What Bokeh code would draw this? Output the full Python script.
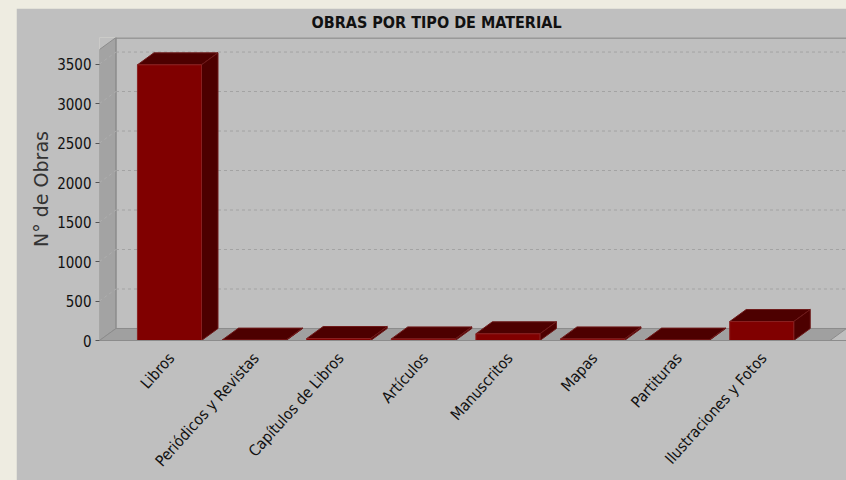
from bokeh.plotting import figure
from bokeh.embed import file_html
from bokeh.resources import INLINE
from bokeh.models import FixedTicker, Title
import math

categories = ["Libros", "Periódicos y Revistas", "Capítulos de Libros", "Artículos",
              "Manuscritos", "Mapas", "Partituras", "Ilustraciones y Fotos"]
values = [3490, 5, 25, 20, 85, 20, 5, 240]
y_ticks = [0, 500, 1000, 1500, 2000, 2500, 3000, 3500]
title_text = "OBRAS POR TIPO DE MATERIAL"
y_title = "N° de Obras"

# 3-D look, in data units
DX, DY = 0.195, 152
BAR = 0.757
X0, X1 = -0.827, 8.002
Y1 = 3836
LABEL_SHIFT = 0.025
FONT = "DejaVu Sans Condensed"

p = figure(width=830, height=472, output_backend="svg", toolbar_location=None,
           x_range=(X0, X1), y_range=(0, Y1), margin=(8, 0, 0, 16),
           min_border_left=83, min_border_right=0, min_border_top=29, min_border_bottom=140)
p.background_fill_color = "#bfbfbf"
p.border_fill_color = "#bfbfbf"
p.outline_line_color = None
p.grid.visible = False

# walls and floor
wall_top = Y1
p.patch([X0, X0 + DX, X0 + DX, X0], [0, DY, wall_top, wall_top - DY],
        fill_color="#a3a3a3", line_color="#8c8c8c", line_width=1)
p.patch([X0, X0 + DX, X1, X1 - DX], [0, DY, DY, 0],
        fill_color="#a0a0a0", line_color="#8c8c8c", line_width=1)
p.line([X0 + DX, X1], [wall_top - 3, wall_top - 3], line_color="#8c8c8c", line_width=2)
p.line([X0 + DX, X0 + DX], [DY, wall_top], line_color="#8c8c8c", line_width=1)

# grid on back and side walls
for t in y_ticks[1:]:
    p.line([X0 + DX, X1], [t + DY, t + DY], line_color="#a3a3a3", line_width=1, line_dash="3 3")
    p.line([X0, X0 + DX], [t, t + DY], line_color="#aeaeae", line_width=1, line_dash="3 3")

# bars
for i, v in enumerate(values):
    l, r = i - BAR / 2, i + BAR / 2
    p.patch([l, l + DX, r + DX, r], [v, v + DY, v + DY, v],
            fill_color="#4d0000", line_color="#6e1a1a", line_width=1)
    p.patch([r, r + DX, r + DX, r], [0, DY, v + DY, v],
            fill_color="#4d0000", line_color="#6e1a1a", line_width=1)
p.vbar(x=list(range(len(values))), top=values, width=BAR, bottom=0,
       fill_color="#800000", line_color="#8a2020", line_width=1)

# axes
p.yaxis.ticker = FixedTicker(ticks=y_ticks)
p.yaxis.axis_line_color = None
p.yaxis.major_tick_line_color = "#555555"
p.yaxis.major_tick_out = 4
p.yaxis.major_tick_in = 0
p.yaxis.minor_tick_line_color = None
p.yaxis.major_label_text_font = FONT
p.yaxis.major_label_text_font_size = "15px"
p.yaxis.major_label_text_color = "#111111"
p.yaxis.major_label_standoff = 4
p.yaxis.axis_label = y_title
p.yaxis.axis_label_text_font = "DejaVu Sans"
p.yaxis.axis_label_text_font_style = "normal"
p.yaxis.axis_label_text_font_size = "19px"
p.yaxis.axis_label_text_color = "#333333"
p.yaxis.axis_label_standoff = 2

label_ticks = [i + LABEL_SHIFT for i in range(len(categories))]
p.xaxis.ticker = FixedTicker(ticks=label_ticks)
p.xaxis.major_label_overrides = {k: c for k, c in zip(label_ticks, categories)}
p.xaxis.major_label_orientation = math.radians(48)
p.xaxis.axis_line_color = "#8c8c8c"
p.xaxis.major_tick_line_color = None
p.xaxis.minor_tick_line_color = None
p.xaxis.major_label_text_font = FONT
p.xaxis.major_label_text_font_size = "15.5px"
p.xaxis.major_label_text_color = "#111111"
p.xaxis.major_label_standoff = 9

t = Title(text=title_text, align="left", offset=212, standoff=7, vertical_align="top",
          text_font=FONT, text_font_style="bold", text_font_size="16px", text_color="#111111")
p.add_layout(t, "above")

html = file_html(p, INLINE)
html = html.replace("<head>", "<head><style>html,body{background:#eeece1;overflow:hidden}</style>", 1)
open("out.html", "w").write(html)
